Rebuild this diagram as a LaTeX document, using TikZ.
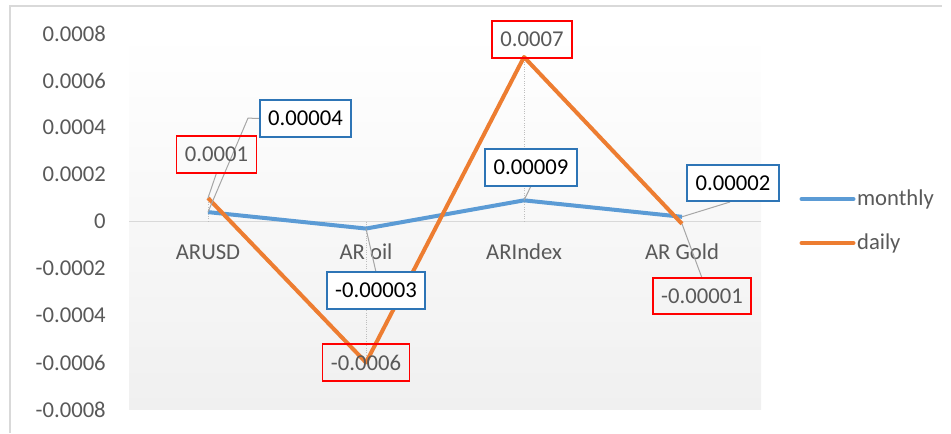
\documentclass[tikz,border=0pt]{standalone}
\usepackage{fontspec}
\setmainfont{Carlito}
\usetikzlibrary{positioning}
\definecolor{Month}{HTML}{5B9BD5}
\definecolor{Day}{HTML}{ED7D31}
\definecolor{BoxBlue}{HTML}{2E75B6}
\definecolor{BoxRed}{HTML}{FF0000}
\definecolor{Txt}{HTML}{595959}
\definecolor{Grid}{HTML}{D9D9D9}
\definecolor{Lead}{HTML}{A6A6A6}
\definecolor{Plot}{HTML}{F0F0F0}
\newcommand{\chartfont}{\fontsize{17}{20}\selectfont}

\begin{document}
\begin{tikzpicture}[x=0.75pt,y=-0.75pt,
    mline/.style={Month,line width=3pt,line join=round},
    dline/.style={Day,line width=3pt,line join=round},
    lead/.style={Lead,line width=0.75pt},
    drop/.style={Grid!70!gray,densely dotted,line width=0.75pt},
    mbox/.style={draw=BoxBlue,line width=1.5pt,fill=white,text=black,font=\chartfont,
      minimum height=27.5pt,inner xsep=6.3pt,inner ysep=0pt},
    dbox/.style={draw=BoxRed,line width=1.3pt,text=Txt,font=\chartfont,
      minimum height=27.5pt,inner xsep=6.3pt,inner ysep=0pt},
    axlab/.style={text=Txt,font=\chartfont,inner sep=0pt}]
  \useasboundingbox (0,0) rectangle (951,433);
  \draw[Grid,line width=1.5pt] (10,433) -- (10,6) -- (942,6);

  \begin{scope}[shift={(0,221.5)},y=17.625pt]
    \shade[top color=white,bottom color=Plot] (129,8) rectangle (761,-8);
    \draw[Grid,line width=1pt] (129,0) -- (761,0);
    \foreach \x/\m/\d [count=\i] in {208/0.4/1,366/-0.3/-6,524/0.9/7,682/0.2/-0.1} {
      \coordinate (m\i) at (\x,\m);
      \coordinate (d\i) at (\x,\d);
      \coordinate (a\i) at (\x,0);
    }
    \foreach \i in {1,...,4}
      \draw[drop] (a\i) -- (d\i);
    \foreach \v/\t [count=\i] in {8/0.0008,6/0.0006,4/0.0004,2/0.0002,0/0,
        -2/-0.0002,-4/-0.0004,-6/-0.0006,-8/-0.0008}
      \node[axlab,anchor=east] (yl\i) at (106,\v) {\t};
    \foreach \x/\t [count=\i] in {208/ARUSD,366/AR oil,524/ARIndex,682/AR Gold}
      \node[axlab] (cat\i) at (\x,-1.3) {\t};
    \draw[mline] (m1) -- (m2) -- (m3) -- (m4);
    \draw[dline] (d1) -- (d2) -- (d3) -- (d4);
  \end{scope}

  \draw[lead] (m1) -- ++(40,-94) -- (259,118.5);
  \draw[lead] (d1) -- (216.5,173);
  \draw[lead] (m2) -- (376,272);
  \draw[lead] (m3) -- (531,186);
  \draw[lead] (m4) -- (730,202);
  \draw[lead] (d4) -- (702,278);

  \node[mbox] (lm1) at (305.5,118.5) {0.00004};
  \node[dbox] (ld1) at (216.5,154.5) {0.0001};
  \node[mbox] (lm2) at (376,290.5) {-0.00003};
  \node[dbox] (ld2) at (366,362.5) {-0.0006};
  \node[mbox] (lm3) at (531,167.5) {0.00009};
  \node[dbox] (ld3) at (532,39.5) {0.0007};
  \node[mbox] (lm4) at (733,183) {0.00002};
  \node[dbox] (ld4) at (702,296) {-0.00001};

  \node[axlab,anchor=west,inner xsep=2.5pt] (lgm) at (853.5,199) {monthly};
  \node[axlab,anchor=west,inner xsep=2.5pt] (lgd) at (853.5,243) {daily};
  \draw[mline,line cap=round] (lgm.west) -- ++(-52,0);
  \draw[dline,line cap=round] (lgd.west) -- ++(-52,0);
\end{tikzpicture}
\end{document}
